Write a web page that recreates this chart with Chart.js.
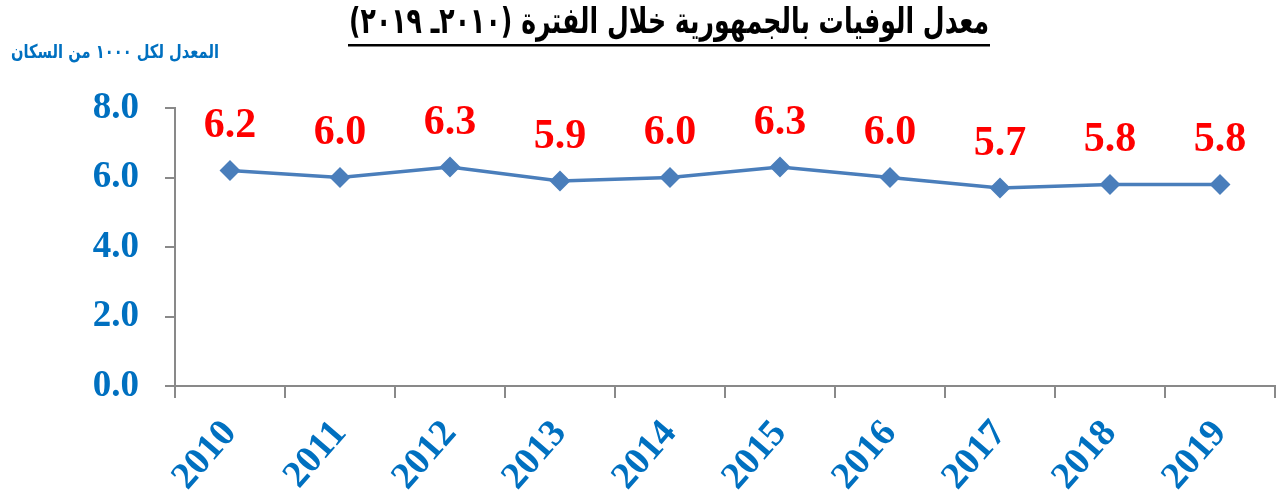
<!DOCTYPE html>
<html>
<head>
<meta charset="utf-8">
<script src="https://cdn.jsdelivr.net/npm/chart.js@4.4.0/dist/chart.umd.min.js"></script>
<style>
  body { margin: 0; background: #fff; }
  #wrap { width: 1278px; height: 503px; position: relative; }
</style>
</head>
<body>
<div id="wrap"><canvas id="deathChart"></canvas></div>
<script>
// data
const years = ['2010', '2011', '2012', '2013', '2014', '2015', '2016', '2017', '2018', '2019'];
const deathRates = [6.2, 6.0, 6.3, 5.9, 6.0, 6.3, 6.0, 5.7, 5.8, 5.8];
const yTickValues = [0, 2, 4, 6, 8];

const chartTitle = 'معدل الوفيات بالجمهورية خلال الفترة (٢٠١٠ـ ٢٠١٩)';
const unitLabel = 'المعدل لكل ١٠٠٠ من السكان';

const blue = '#0070C0';
const axisGrey = '#898989';

// draw arabic text stretched to a given width
function fitText(ctx, text, cx, cy, width, font, color) {
  ctx.save();
  ctx.font = font;
  ctx.fillStyle = color;
  ctx.direction = 'rtl';
  ctx.textAlign = 'center';
  ctx.textBaseline = 'middle';
  const w = ctx.measureText(text).width;
  ctx.translate(cx, cy);
  ctx.scale(width / w, 1);
  ctx.fillText(text, 0, 0);
  ctx.restore();
}

const textPlugin = {
  id: 'textPlugin',
  afterDraw(chart) {
    const ctx = chart.ctx;
    // title + underline
    fitText(ctx, chartTitle, 669, 24, 640, 'bold 36px "DejaVu Sans"', '#000');
    ctx.save();
    ctx.fillStyle = '#000';
    ctx.fillRect(348, 44, 642, 2.5);
    ctx.restore();
    // unit label
    fitText(ctx, unitLabel, 115, 53, 208, 'bold 19px "DejaVu Sans"', blue);

    // value labels above the points
    const meta = chart.getDatasetMeta(0);
    ctx.save();
    ctx.font = 'bold 42px "Liberation Serif"';
    ctx.fillStyle = '#FF0000';
    ctx.textAlign = 'center';
    ctx.textBaseline = 'middle';
    meta.data.forEach((pt, i) => {
      ctx.fillText(deathRates[i].toFixed(1), pt.x, pt.y - 44);
    });
    ctx.restore();
  }
};

new Chart(document.getElementById('deathChart'), {
  type: 'line',
  data: {
    labels: years,
    datasets: [{
      data: deathRates,
      borderColor: '#4A7EBB',
      backgroundColor: '#4A7EBB',
      borderWidth: 3.5,
      pointStyle: 'rectRot',
      pointRadius: 8,
      pointHoverRadius: 8,
      tension: 0
    }]
  },
  options: {
    responsive: true,
    maintainAspectRatio: false,
    animation: false,
    layout: { autoPadding: false, padding: { top: 108, right: 3, left: 0, bottom: 0 } },
    plugins: {
      legend: { display: false },
      tooltip: { enabled: false }
    },
    scales: {
      x: {
        offset: true,
        grid: { offset: true, drawOnChartArea: false, drawTicks: true, tickLength: 12, color: axisGrey, lineWidth: 2 },
        border: { color: axisGrey, width: 2 },
        ticks: {
          color: blue,
          font: { family: 'Liberation Serif', weight: 'bold', size: 38 },
          minRotation: 49,
          maxRotation: 49,
          padding: 14
        },
        afterFit(scale) {
          scale.height = 117;
          scale.paddingLeft = 0;
          scale.paddingRight = 0;
        }
      },
      y: {
        min: 0,
        max: 8,
        afterBuildTicks(scale) {
          scale.ticks = yTickValues.map(v => ({ value: v }));
        },
        grid: { drawOnChartArea: false, drawTicks: true, tickLength: 10, color: axisGrey, lineWidth: 2 },
        border: { color: axisGrey, width: 2 },
        ticks: {
          color: blue,
          font: { family: 'Liberation Serif', weight: 'bold', size: 37 },
          padding: 26,
          callback: v => v.toFixed(1)
        },
        afterFit(scale) { scale.width = 175; }
      }
    }
  },
  plugins: [textPlugin]
});
</script>
</body>
</html>
